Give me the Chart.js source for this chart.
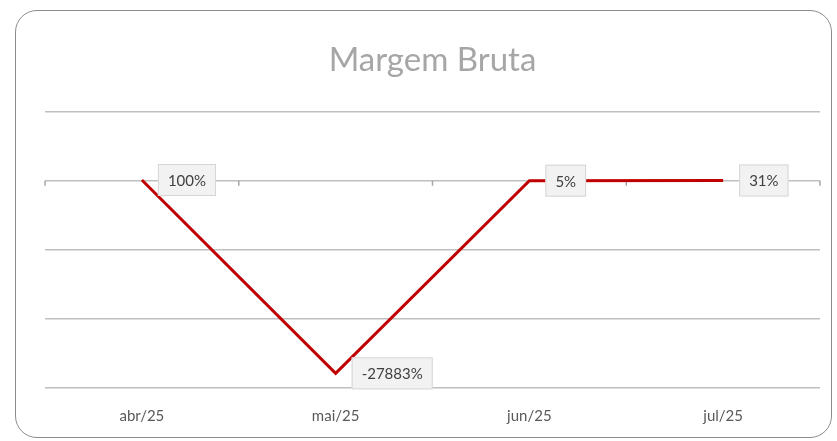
<!DOCTYPE html>
<html>
<head>
<meta charset="utf-8">
<script src="https://cdn.jsdelivr.net/npm/chart.js@4.4.1/dist/chart.umd.min.js"></script>
<style>
  html, body { margin: 0; padding: 0; background: #fff; }
  #wrap { position: relative; width: 837px; height: 441px; }
  #frame {
    position: absolute; left: 15px; top: 10px; width: 815px; height: 426px;
    border: 1.5px solid #8c8c8c; border-radius: 22px; pointer-events: none;
  }
  #chart { position: absolute; left: 0; top: 0; }
</style>
</head>
<body>
<div id="wrap">
  <canvas id="chart" width="837" height="441"></canvas>
  <div id="frame"></div>
</div>
<script>
// Margem Bruta — monthly gross margin (%)
const months = ['abr/25', 'mai/25', 'jun/25', 'jul/25'];
const margem = [100, -27883, 5, 31];

const FONT = 'Lato, "Open Sans", sans-serif';

// tick marks on the zero line, at the category boundaries (Excel style)
const zeroTicks = {
  id: 'zeroTicks',
  beforeDatasetsDraw(chart) {
    const { ctx, scales: { x, y } } = chart;
    const y0 = y.getPixelForValue(0);
    const half = (x.getPixelForTick(1) - x.getPixelForTick(0)) / 2;
    ctx.save();
    ctx.strokeStyle = '#a6a6a6';
    ctx.lineWidth = 1.5;
    ctx.beginPath();
    for (let i = 0; i <= months.length; i++) {
      const px = i < months.length ? x.getPixelForTick(i) - half : x.getPixelForTick(i - 1) + half;
      ctx.moveTo(px, y0);
      ctx.lineTo(px, y0 + 5);
    }
    ctx.stroke();
    ctx.restore();
  }
};

// boxed data labels to the right of each point
const boxLabels = {
  id: 'boxLabels',
  afterDatasetsDraw(chart) {
    const { ctx } = chart;
    const meta = chart.getDatasetMeta(0);
    ctx.save();
    ctx.font = '15px ' + FONT;
    ctx.textBaseline = 'middle';
    meta.data.forEach((pt, i) => {
      const txt = margem[i] + '%';
      const w = ctx.measureText(txt).width + 20;
      const h = 32;
      const bx = pt.x + 16, by = pt.y - h / 2;
      ctx.fillStyle = '#f2f2f2';
      ctx.fillRect(bx, by, w, h);
      ctx.strokeStyle = '#d6d6d6';
      ctx.lineWidth = 1;
      ctx.strokeRect(bx + 0.5, by + 0.5, w - 1, h - 1);
      ctx.fillStyle = '#404040';
      ctx.fillText(txt, bx + 10, pt.y + 1);
    });
    ctx.restore();
  }
};

new Chart(document.getElementById('chart'), {
  type: 'line',
  data: {
    labels: months,
    datasets: [{
      data: margem,
      borderColor: '#c00000',
      borderWidth: 3,
      pointRadius: 0,
      tension: 0,
      fill: false
    }]
  },
  options: {
    responsive: false,
    animation: false,
    layout: { padding: { left: 45, right: 17, top: 0, bottom: -3 } },
    scales: {
      x: {
        offset: true,
        grid: { display: false, drawTicks: false },
        border: { display: false },
        ticks: { color: '#595959', font: { family: FONT, size: 15 }, padding: 19 }
      },
      y: {
        min: -30000, max: 10000,
        ticks: { stepSize: 10000, display: false },
        grid: { color: '#bfbfbf', lineWidth: 1.5, drawTicks: false },
        border: { display: false }
      }
    },
    plugins: {
      legend: { display: false },
      tooltip: { enabled: false },
      title: {
        display: true,
        text: 'Margem Bruta',
        color: '#a6a6a6',
        font: { family: FONT, size: 33, weight: 'normal' },
        padding: { top: 41, bottom: 31 }
      }
    }
  },
  plugins: [zeroTicks, boxLabels]
});
</script>
</body>
</html>
